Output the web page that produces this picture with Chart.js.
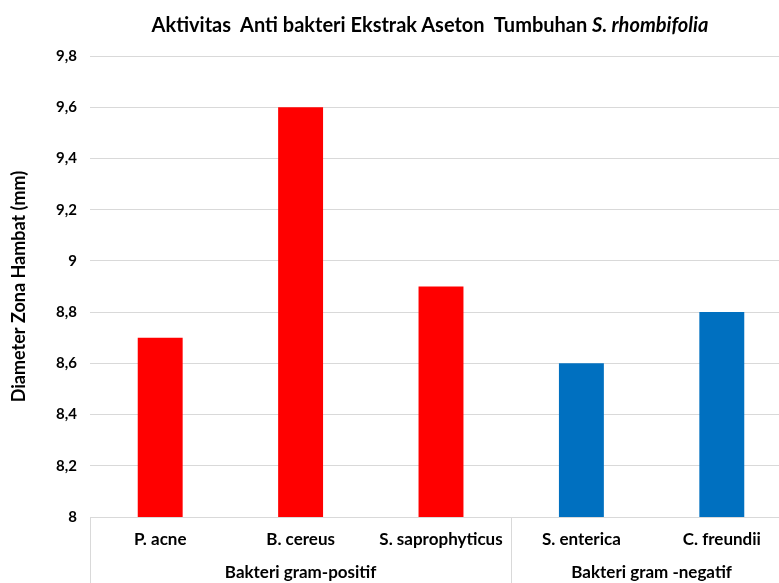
<!DOCTYPE html>
<html>
<head>
<meta charset="utf-8">
<script src="https://cdn.jsdelivr.net/npm/chart.js@4.4.1/dist/chart.umd.min.js"></script>
<style>
  html, body { margin: 0; padding: 0; background: #fff; overflow: hidden; }
  #wrap { position: relative; width: 792px; height: 583px; }
  #title {
    position: absolute; left: 0; top: 12px; width: 860px; text-align: center;
    font: bold 20px Lato, sans-serif; color: #000; white-space: pre;
  }
</style>
</head>
<body>
<div id="wrap">
  <div id="title">Aktivitas  Anti bakteri Ekstrak Aseton  Tumbuhan <i>S. rhombifolia</i></div>
  <canvas id="chart" width="792" height="583"></canvas>
</div>
<script>
const bacteria = ['P. acne', 'B. cereus', 'S. saprophyticus', 'S. enterica', 'C. freundii'];
const zones    = [8.7, 9.6, 8.9, 8.6, 8.8];
const groups   = ['Bakteri gram-positif', 'Bakteri gram -negatif'];
const groupOf  = [0, 0, 0, 1, 1];
const barColors = ['#ff0000', '#ff0000', '#ff0000', '#0070c0', '#0070c0'];

const FONT = 'Lato, sans-serif';

// separators and group names under the category labels
const groupAxis = {
  id: 'groupAxis',
  afterDraw(chart) {
    const ctx = chart.ctx;
    const x = chart.scales.x;
    const bottom = chart.chartArea.bottom;
    const half = (x.getPixelForValue(1) - x.getPixelForValue(0)) / 2;
    ctx.save();
    ctx.strokeStyle = '#d9d9d9';
    ctx.lineWidth = 1;
    groups.forEach((g, gi) => {
      const idx = groupOf.map((v, i) => v == gi ? i : -1).filter(i => i >= 0);
      const left = x.getPixelForValue(idx[0]) - half;
      const right = x.getPixelForValue(idx[idx.length - 1]) + half;
      ctx.beginPath();
      ctx.moveTo(Math.round(left) + 0.5, bottom);
      ctx.lineTo(Math.round(left) + 0.5, chart.height);
      ctx.stroke();
      ctx.fillStyle = '#000';
      ctx.font = 'bold 17px ' + FONT;
      ctx.textAlign = 'center';
      ctx.textBaseline = 'middle';
      ctx.fillText(g, (left + right) / 2, 573);
    });
    ctx.restore();
  }
};

const ctx = document.getElementById('chart').getContext('2d');
new Chart(ctx, {
  type: 'bar',
  data: {
    labels: bacteria,
    datasets: [{
      data: zones,
      backgroundColor: barColors,
      barPercentage: 0.32,
      categoryPercentage: 1
    }]
  },
  options: {
    responsive: false,
    animation: false,
    layout: { padding: { top: 56, left: 0, right: 0, bottom: 0 } },
    plugins: { legend: { display: false }, tooltip: { enabled: false } },
    scales: {
      x: {
        grid: { display: false },
        border: { color: '#d9d9d9' },
        ticks: { color: '#000', font: { family: FONT, size: 17, weight: 'bold' }, padding: 4, maxRotation: 0 },
        afterFit(s) { s.height = 66; }
      },
      y: {
        min: 8, max: 9.8,
        border: { display: false },
        grid: { color: '#d9d9d9', drawTicks: false },
        ticks: {
          stepSize: 0.2, padding: 13, color: '#000',
          font: { family: FONT, size: 15, weight: 'bold' },
          callback: v => String(Math.round(v * 10) / 10).replace('.', ',')
        },
        title: {
          display: true, text: 'Diameter Zona Hambat (mm)', color: '#000',
          font: { family: FONT, size: 18, weight: 'bold' }, padding: { top: 8, bottom: 0 }
        },
        afterFit(s) { s.width = 90; }
      }
    }
  },
  plugins: [groupAxis]
});
</script>
</body>
</html>
